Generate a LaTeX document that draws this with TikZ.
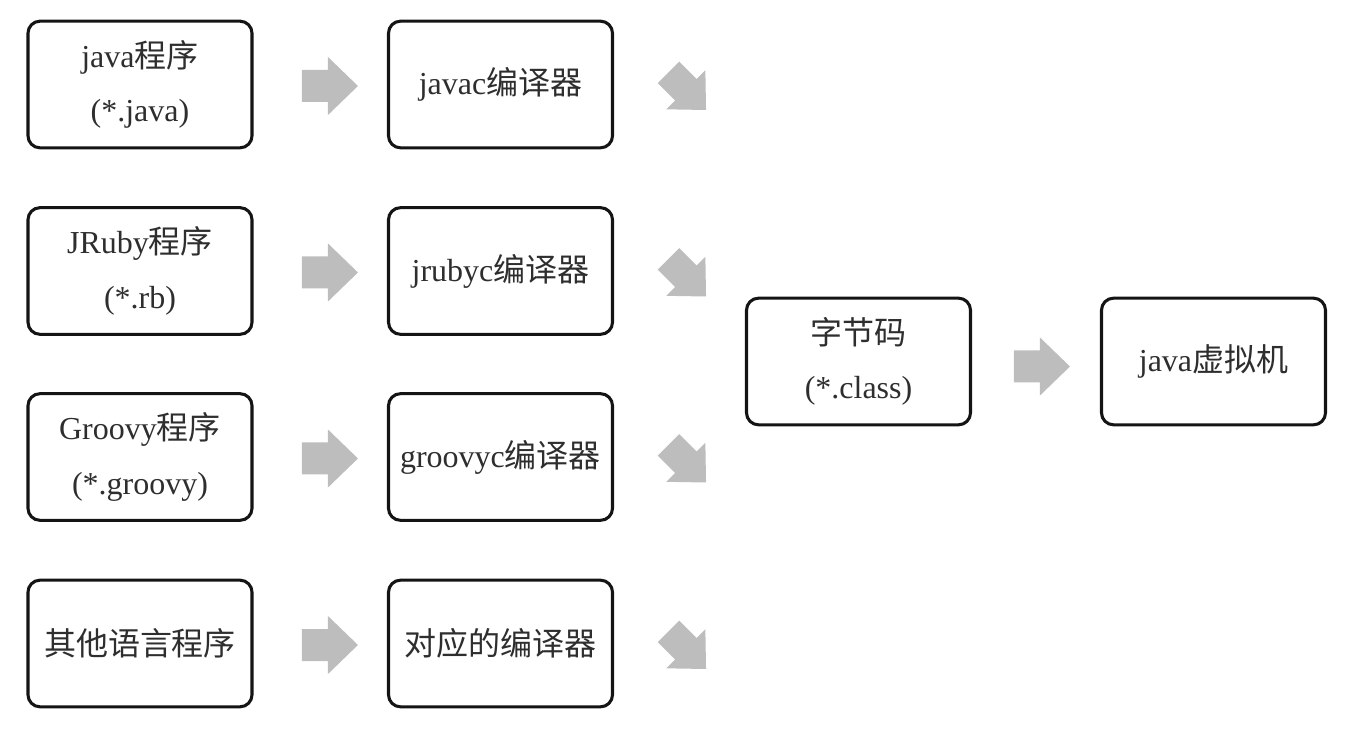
\documentclass[tikz,border=0pt]{standalone}
\usepackage{fontspec}
\setmainfont{Liberation Serif}
\newfontfamily\cjk{Noto Sans CJK SC}
\usetikzlibrary{calc}
\definecolor{arrowgray}{HTML}{BDBDBD}
\definecolor{txt}{HTML}{2E2E2E}
\begin{document}
\begin{tikzpicture}[x=0.75pt,y=-0.75pt,
  box/.style={draw=black!92,line width=2.3pt,rounded corners=9pt,
    minimum width=168pt,minimum height=95pt,align=center,text=txt,
    font=\fontsize{24}{41}\selectfont,inner sep=0pt},
  blockarrow/.pic={\fill[arrowgray] (-56,-16) -- (-30,-16) -- (-30,-29) -- (0,0) -- (-30,29) -- (-30,16) -- (-56,16) -- cycle;},
  diagarrow/.pic={\begin{scope}[rotate=-45,scale=0.95]\fill[arrowgray] (-56,-16) -- (-30,-16) -- (-30,-29) -- (0,0) -- (-30,29) -- (-30,16) -- (-56,16) -- cycle;\end{scope}}
]
\useasboundingbox (0,0) rectangle (1346,730);
\node[box] (a1) at (140,84.5) {java{\cjk 程序}\\(*.java)};
\node[box] (a2) at (140,271) {JRuby{\cjk 程序}\\(*.rb)};
\node[box] (a3) at (140,457) {Groovy{\cjk 程序}\\(*.groovy)};
\node[box] (a4) at (140,643.5) {{\cjk 其他语言程序}};
\node[box] (b1) at (500.5,84.5) {javac{\cjk 编译器}};
\node[box] (b2) at (500.5,271) {jrubyc{\cjk 编译器}};
\node[box] (b3) at (500.5,457) {groovyc{\cjk 编译器}};
\node[box] (b4) at (500.5,643.5) {{\cjk 对应的编译器}};
\node[box] (bc) at (858.5,361.5) {{\cjk 字节码}\\(*.class)};
\node[box] (jvm) at (1213.5,361.5) {java{\cjk 虚拟机}};
\foreach \i in {1,...,4}{
  \pic at ($(b\i.west)+(-29,1.5)$) {blockarrow};
  \pic at ($(b\i.east)+(92,25.5)$) {diagarrow};
}
\pic at ($(jvm.west)+(-30,5)$) {blockarrow};
\end{tikzpicture}
\end{document}
